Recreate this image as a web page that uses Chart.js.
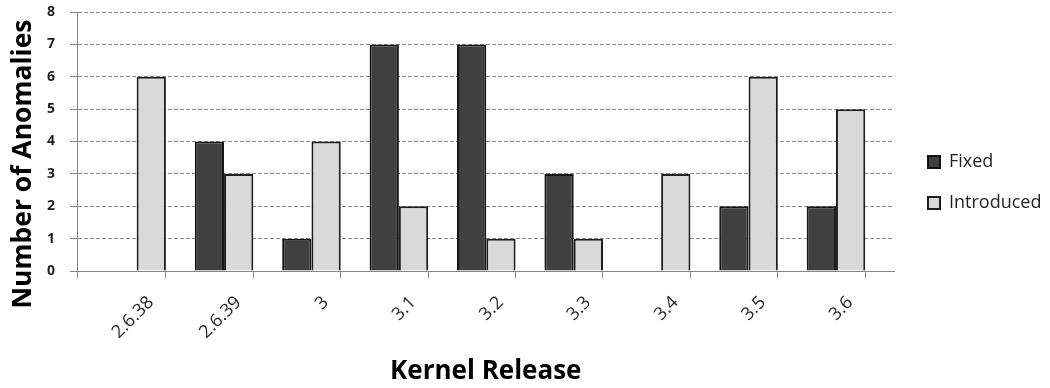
<!DOCTYPE html>
<html>
<head>
<meta charset="utf-8">
<script src="https://cdn.jsdelivr.net/npm/chart.js@4"></script>
<style>
html,body{margin:0;padding:0;background:#ffffff;}
#wrap{width:1050px;height:388px;position:relative;}
</style>
</head>
<body>
<div id="wrap"><canvas id="c" width="1050" height="388"></canvas></div>
<script>
const categories = ['2.6.38', '2.6.39', '3', '3.1', '3.2', '3.3', '3.4', '3.5', '3.6'];
const fixedValues = [0, 4, 1, 7, 7, 3, 0, 2, 2];
const introducedValues = [6, 3, 4, 2, 1, 1, 3, 6, 5];
const yTickValues = [0, 1, 2, 3, 4, 5, 6, 7, 8];

Chart.defaults.font.family = "'Open Sans', 'DejaVu Sans', sans-serif";

const legendShift = {
  id: 'legendShift',
  afterLayout(chart) {
    const l = chart.legend;
    if (!l || !l.columnSizes || !l.columnSizes.length) return;
    const pad = l.options.labels.padding;
    const dx = 928 - (l.left + pad);
    l.left += dx; l.right += dx;
    const fs = l.options.labels.font.size;
    const cursorY = (l.top + pad + l.bottom - l.columnSizes[0].height) / 2;
    const dy = 162 - (cursorY + fs / 2);
    l.top += dy; l.bottom += dy;
  }
};

const yTitleShift = {
  id: 'yTitleShift',
  beforeDraw(chart) {
    const s = chart.scales.y;
    if (s && !s._titleShifted) {
      const orig = s.drawTitle;
      s.drawTitle = function () {
        const c = this.ctx;
        c.save();
        c.translate(0, 22.5);
        orig.call(this);
        c.restore();
      };
      s._titleShifted = true;
    }
  }
};

const ctx = document.getElementById('c').getContext('2d');
new Chart(ctx, {
  type: 'bar',
  data: {
    datasets: [
      {
        label: 'Fixed',
        data: categories.map((c, i) => ({ x: i, y: fixedValues[i] })),
        backgroundColor: '#404040',
        borderColor: '#141414',
        borderWidth: 2,
        categoryPercentage: 0.67,
        barPercentage: 1.0
      },
      {
        label: 'Introduced',
        data: categories.map((c, i) => ({ x: i, y: introducedValues[i] })),
        backgroundColor: '#d9d9d9',
        borderColor: '#1e1e1e',
        borderWidth: 2,
        categoryPercentage: 0.67,
        barPercentage: 1.0
      }
    ]
  },
  options: {
    responsive: false,
    animation: false,
    devicePixelRatio: 1,
    layout: { padding: { top: 12, right: 9, bottom: 0, left: 0 } },
    scales: {
      x: {
        type: 'linear',
        position: 'bottom',
        offset: false,
        min: -0.682,
        max: 8.67,
        afterBuildTicks: (s) => {
          s.ticks = [{ value: s.min }].concat(categories.map((c, i) => ({ value: i + 0.335 })));
        },
        afterFit: (s) => { s.height = 117; },
        ticks: {
          autoSkip: false,
          minRotation: 45,
          maxRotation: 45,
          labelOffset: -15,
          padding: 14,
          color: '#262626',
          font: { size: 18 },
          callback: (v, i) => (i === 0 ? '' : categories[i - 1])
        },
        grid: { offset: false, drawOnChartArea: false, drawTicks: true, tickLength: 7, color: '#868686' },
        border: { display: true, color: '#868686', width: 1 },
        title: {
          display: true,
          text: 'Kernel Release',
          color: '#000000',
          font: { size: 26, weight: 'bold', lineHeight: 1 },
          padding: { top: 0, bottom: 3 }
        }
      },
      y: {
        min: 0,
        max: 8,
        afterBuildTicks: (s) => { s.ticks = yTickValues.map(v => ({ value: v })); },
        afterFit: (s) => { s.width = 77; s.paddingTop = 0; s.paddingBottom = 0; },
        ticks: {
          padding: 15,
          color: '#1f1f1f',
          font: { size: 14, weight: 'bold' }
        },
        grid: { color: '#8c8c8c', lineWidth: 1, drawTicks: true, tickLength: 7, tickColor: '#868686' },
        border: { display: true, dash: [4, 2], color: '#868686', width: 1 },
        title: {
          display: true,
          text: 'Number of Anomalies',
          color: '#000000',
          font: { size: 26.5, weight: 'bold', lineHeight: 1 },
          padding: { top: 10, bottom: 0 }
        }
      }
    },
    plugins: {
      legend: {
        position: 'right',
        align: 'center',
        labels: {
          boxWidth: 12,
          boxHeight: 12,
          padding: 23,
          color: '#1f1f1f',
          font: { size: 18 }
        }
      },
      tooltip: { enabled: false }
    }
  },
  plugins: [legendShift, yTitleShift]
});
</script>
</body>
</html>
